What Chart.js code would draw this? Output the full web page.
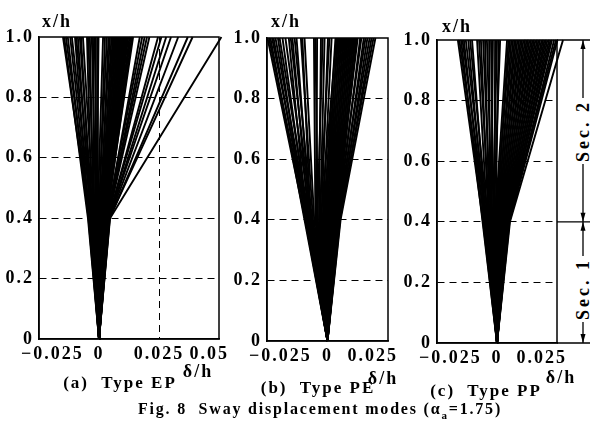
<!DOCTYPE html>
<html><head><meta charset="utf-8">
<script src="https://cdn.jsdelivr.net/npm/chart.js@4.4.0/dist/chart.umd.min.js"></script>
<style>
html,body{margin:0;padding:0;background:#fff}
body{width:604px;height:435px;position:relative;overflow:hidden;font-family:"Liberation Serif",serif;font-weight:bold;color:#000}
canvas{position:absolute;left:0;top:0}
.c{position:absolute;white-space:pre;line-height:1;transform:translate(-50%,-50%);letter-spacing:2px}
.r{position:absolute;white-space:pre;line-height:1;transform:translate(-50%,-50%) rotate(-90deg);background:#fff;padding:3px 2px;letter-spacing:3px}
</style></head><body>
<canvas id="ca" width="604" height="435"></canvas>
<canvas id="cb" width="604" height="435"></canvas>
<canvas id="cc" width="604" height="435"></canvas>
<div class="c" style="left:57px;top:21px;font-size:18px">x/h</div>
<div class="c" style="left:286px;top:21px;font-size:18px">x/h</div>
<div class="c" style="left:457px;top:26px;font-size:18px">x/h</div>
<div class="c" style="left:198px;top:371px;font-size:18px">δ/h</div>
<div class="c" style="left:383px;top:378px;font-size:18px">δ/h</div>
<div class="c" style="left:561px;top:377px;font-size:18px">δ/h</div>
<div class="c" style="left:120px;top:382px;font-size:17px">(a)  Type EP</div>
<div class="c" style="left:318px;top:387px;font-size:17px">(b)  Type PE</div>
<div class="c" style="left:486px;top:390px;font-size:17px">(c)  Type PP</div>
<div class="c" style="left:320px;top:411px;font-size:16px;letter-spacing:1.8px">Fig. 8  Sway displacement modes (α<sub style="font-size:11px">a</sub>=1.75)</div>
<div class="r" style="left:583px;top:131px;font-size:18px">Sec. 2</div>
<div class="r" style="left:583px;top:289px;font-size:18px">Sec. 1</div>
<script>
// heights (x/h) at which each mode shape is given
const HEIGHTS = [0, 0.4, 1.0];
const Y_TICKS = [0, 0.2, 0.4, 0.6, 0.8, 1.0];
const Y_LABELS = ["0", "0.2", "0.4", "0.6", "0.8", "1.0"];

// (a) Type EP : delta/h at x/h = 0.4 (MID) and at x/h = 1.0 (TOP), one entry per line
const A_X_TICKS = [-0.025, 0, 0.025, 0.05];
const A_X_LABELS = ["\u22120.025", "0", "0.025", "0.05"];
const A_TOP = [-0.0150,-0.0145,-0.0138,-0.0130,-0.0120,-0.0113,
  -0.0100,-0.0095,-0.0088,-0.0080,-0.0075,-0.0067,
  -0.0050,-0.0045,-0.0038,-0.0030,-0.0025,-0.0018,-0.0013,-0.0006,-0.0002,
  0.0017,0.0025,0.0033,0.0040,0.0046,0.0052,0.0058,
  0.0062,0.0066,0.0070,0.0074,0.0078,0.0082,0.0086,0.0090,0.0094,0.0098,0.0102,0.0106,0.0110,0.0114,0.0118,0.0122,0.0127,0.0132,0.0137,0.0142,
  0.0170,0.0180,0.0190,0.0200,0.0210,
  0.0246,0.0260,0.0280,0.0300,0.0330,0.0370,0.0390,0.0510];
const A_MID = [-0.0040,-0.0046,-0.0035,-0.0044,-0.0038,-0.0030,
  -0.0042,-0.0028,-0.0036,-0.0025,-0.0032,-0.0020,
  -0.0030,-0.0018,-0.0024,-0.0012,-0.0020,-0.0008,-0.0015,-0.0004,-0.0010,
  -0.0006,0.0000,-0.0002,0.0006,0.0002,0.0010,0.0004,
  0.0012,0.0008,0.0016,0.0010,0.0018,0.0014,0.0020,0.0016,0.0022,0.0019,0.0025,0.0021,0.0027,0.0024,0.0029,0.0026,0.0031,0.0028,0.0033,0.0030,
  0.0034,0.0032,0.0036,0.0035,0.0038,
  0.0040,0.0039,0.0042,0.0041,0.0043,0.0045,0.0044,0.0046];

// (b) Type PE
const B_X_TICKS = [-0.025, 0, 0.025];
const B_X_LABELS = ["\u22120.025", "0", "0.025"];
const B_TOP = [-0.0248,-0.0242,-0.0236,-0.0229,-0.0223,-0.0215,-0.0205,-0.0198,-0.0186,-0.0174,
  -0.0160,-0.0152,-0.0145,-0.0136,-0.0128,
  -0.0110,-0.0104,-0.0095,
  -0.0056,-0.0050,-0.0043,
  -0.0027,-0.0020,-0.0012,
  0.0002,0.0008,0.0017,
  0.0033,0.0037,0.0041,0.0045,0.0049,0.0053,0.0057,0.0061,0.0065,0.0069,0.0073,0.0077,0.0081,0.0085,0.0089,0.0093,0.0097,0.0101,0.0105,0.0109,0.0113,0.0117,0.0121,0.0125,
  0.0135,0.0140,0.0150,0.0157,0.0165,0.0174,0.0182,0.0190,0.0198];
const B_MID = [-0.0092,-0.0085,-0.0095,-0.0080,-0.0088,-0.0078,-0.0090,-0.0075,-0.0083,-0.0070,
  -0.0086,-0.0068,-0.0078,-0.0064,-0.0072,
  -0.0060,-0.0070,-0.0055,
  -0.0050,-0.0040,-0.0046,
  -0.0035,-0.0042,-0.0030,
  -0.0025,-0.0033,-0.0020,
  -0.0015,-0.0028,-0.0010,-0.0020,-0.0005,-0.0014,0.0000,-0.0008,0.0005,-0.0002,0.0010,0.0004,0.0015,0.0008,0.0020,0.0013,0.0025,0.0018,0.0030,0.0023,0.0035,0.0028,0.0040,0.0033,
  0.0044,0.0038,0.0048,0.0042,0.0050,0.0046,0.0052,0.0049,0.0054];

// (c) Type PP
const C_X_TICKS = [-0.025, 0, 0.025];
const C_X_LABELS = ["\u22120.025", "0", "0.025"];
const C_TOP = [-0.0163,-0.0157,-0.0150,-0.0144,-0.0138,-0.0130,-0.0120,-0.0112,-0.0104,
  -0.0083,-0.0075,-0.0067,-0.0058,-0.0050,-0.0042,-0.0033,-0.0025,-0.0017,-0.0008,0.0000,0.0007,0.0013,
  0.0042,0.0048,0.0054,0.0060,0.0067,0.0073,0.0079,0.0085,0.0092,0.0098,0.0104,0.0110,0.0117,0.0123,0.0129,0.0135,0.0142,0.0148,0.0154,0.0160,0.0167,0.0173,0.0179,0.0186,0.0192,0.0198,0.0204,
  0.0210,0.0217,0.0223,0.0229,0.0238,0.0246,0.0252,0.0275];
const C_MID = [-0.0058,-0.0050,-0.0060,-0.0045,-0.0054,-0.0042,-0.0050,-0.0038,-0.0046,
  -0.0040,-0.0030,-0.0036,-0.0025,-0.0032,-0.0020,-0.0028,-0.0015,-0.0024,-0.0010,-0.0018,-0.0006,-0.0014,
  -0.0008,-0.0002,-0.0006,0.0002,-0.0002,0.0006,0.0002,0.0010,0.0006,0.0014,0.0010,0.0018,0.0014,0.0022,0.0018,0.0026,0.0022,0.0030,0.0026,0.0034,0.0030,0.0037,0.0033,0.0040,0.0036,0.0043,0.0039,
  0.0046,0.0042,0.0048,0.0045,0.0050,0.0047,0.0052,0.0054];

const near = (a,b)=>Math.abs(a-b)<1e-9;
const TICK_FONT = 'bold 18px "Liberation Serif", serif';

const framePlugin = {
  id:'frame',
  afterDatasetsDraw(chart){
    const {ctx, chartArea:a} = chart;
    ctx.save();
    ctx.strokeStyle='#000'; ctx.lineWidth=1.5;
    ctx.strokeRect(a.left, a.top, a.right-a.left, a.bottom-a.top);
    ctx.restore();
  }
};

const labelPlugin = {
  id:'lbl',
  afterDraw(chart, args, opts){
    const {ctx, chartArea:a, scales:{x,y}} = chart;
    ctx.save();
    ctx.fillStyle='#000';
    ctx.font=TICK_FONT;
    if ('letterSpacing' in ctx) ctx.letterSpacing='2px';
    ctx.textBaseline='middle';
    ctx.textAlign='center';
    opts.xTicks.forEach((v,i)=>{
      const t=opts.xLabels[i];
      const w=ctx.measureText(t).width;
      let px=x.getPixelForValue(v);
      px=Math.max(px, a.left + w/2 - 18);
      px=Math.min(px, a.right - w/2 + 10);
      ctx.fillText(t, px, a.bottom+15);
    });
    ctx.textAlign='right';
    Y_TICKS.forEach((v,i)=>ctx.fillText(Y_LABELS[i], a.left-5, y.getPixelForValue(v)));
    ctx.restore();
  }
};

const secPlugin = {
  id:'sec',
  afterDatasetsDraw(chart){
    const {ctx, chartArea:a, scales:{y}} = chart;
    const yT=y.getPixelForValue(1.0), yM=y.getPixelForValue(0.4), yB=y.getPixelForValue(0);
    const xe=590, xv=583;
    ctx.save();
    ctx.strokeStyle='#000'; ctx.fillStyle='#000'; ctx.lineWidth=1.3;
    ctx.beginPath();
    [yT,yM,yB].forEach(v=>{ctx.moveTo(a.right,v);ctx.lineTo(xe,v);});
    ctx.moveTo(xv,yT); ctx.lineTo(xv,yB);
    ctx.stroke();
    const arrow=(tip,dir)=>{ctx.beginPath();ctx.moveTo(xv,tip);ctx.lineTo(xv-2.5,tip+dir*9);ctx.lineTo(xv+2.5,tip+dir*9);ctx.closePath();ctx.fill();};
    arrow(yT,1); arrow(yM,-1); arrow(yM,1); arrow(yB,-1);
    ctx.restore();
  }
};

function makePanel(id, area, xmin, xmax, xTicks, xLabels, mids, tops, vGrid, extra){
  const W=34, H=30;
  const datasets = mids.map((m,i)=>({
    data:[{x:0,y:HEIGHTS[0]},{x:m,y:HEIGHTS[1]},{x:tops[i],y:HEIGHTS[2]}],
    borderColor:'#000', borderWidth:1.9, pointRadius:0, fill:false, tension:0, clip:false
  }));
  const plugins=[framePlugin, labelPlugin];
  if (extra) plugins.push(extra);
  return new Chart(document.getElementById(id), {
    type:'line',
    data:{datasets},
    plugins,
    options:{
      responsive:false, animation:false, parsing:false,
      layout:{padding:{left:area.left-W, right:604-area.right, top:area.top, bottom:435-area.bottom-H}},
      plugins:{legend:{display:false}, tooltip:{enabled:false}, lbl:{xTicks, xLabels}},
      scales:{
        x:{type:'linear', min:xmin, max:xmax,
          afterBuildTicks:s=>{s.ticks=xTicks.map(v=>({value:v}));},
          afterFit:s=>{s.height=H;},
          ticks:{display:false},
          grid:{drawTicks:false, lineWidth:1, color:c=>(c.tick && vGrid.some(g=>near(g,c.tick.value)))?'#000':'rgba(0,0,0,0)'},
          border:{display:true, color:'#000', width:1.5, dash:[7,5]}
        },
        y:{type:'linear', min:0, max:1,
          afterBuildTicks:s=>{s.ticks=Y_TICKS.map(v=>({value:v}));},
          afterFit:s=>{s.width=W;},
          ticks:{display:false},
          grid:{drawTicks:false, lineWidth:1, color:c=>(c.tick && c.tick.value>0.01 && c.tick.value<0.99)?'#000':'rgba(0,0,0,0)'},
          border:{display:true, color:'#000', width:1.5, dash:[7,5]}
        }
      }
    }
  });
}

makePanel('ca', {left:39,right:219,top:37,bottom:339}, -0.025, 0.05, A_X_TICKS, A_X_LABELS, A_MID, A_TOP, [0.025], null);
makePanel('cb', {left:267,right:388,top:38,bottom:341}, -0.025, 0.025, B_X_TICKS, B_X_LABELS, B_MID, B_TOP, [], null);
makePanel('cc', {left:437,right:557,top:40,bottom:343}, -0.025, 0.025, C_X_TICKS, C_X_LABELS, C_MID, C_TOP, [], secPlugin);
</script>
</body></html>
